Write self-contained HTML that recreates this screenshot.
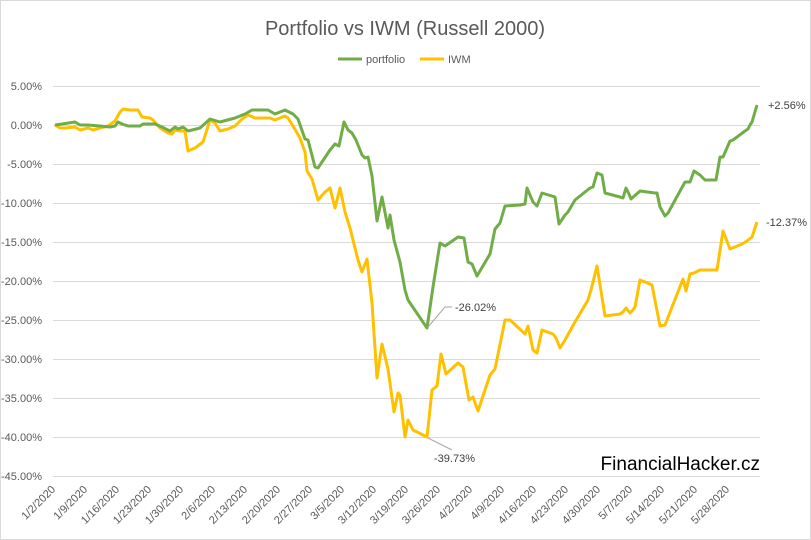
<!DOCTYPE html>
<html><head><meta charset="utf-8"><style>
html,body{margin:0;padding:0;background:#fff}
svg{display:block;font-family:"Liberation Sans",sans-serif}
</style></head><body>
<svg width="811" height="540" viewBox="0 0 811 540">
<rect x="0.5" y="0.5" width="810" height="539" fill="#fff" stroke="#d9d9d9"/>
<text x="405" y="35" text-anchor="middle" font-size="20" fill="#595959">Portfolio vs IWM (Russell 2000)</text>
<line x1="338" y1="59" x2="362" y2="59" stroke="#70ad47" stroke-width="3"/>
<text x="366" y="63" font-size="11" fill="#595959">portfolio</text>
<line x1="420" y1="59" x2="444" y2="59" stroke="#ffc000" stroke-width="3"/>
<text x="448" y="63" font-size="11" fill="#595959">IWM</text>
<g stroke="#d9d9d9" stroke-width="1">
<line x1="53" x2="760" y1="86.5" y2="86.5"/><line x1="53" x2="760" y1="125.5" y2="125.5"/>
<line x1="53" x2="760" y1="164.5" y2="164.5"/><line x1="53" x2="760" y1="203.5" y2="203.5"/>
<line x1="53" x2="760" y1="242.5" y2="242.5"/><line x1="53" x2="760" y1="281.5" y2="281.5"/>
<line x1="53" x2="760" y1="320.5" y2="320.5"/><line x1="53" x2="760" y1="359.5" y2="359.5"/>
<line x1="53" x2="760" y1="398.5" y2="398.5"/><line x1="53" x2="760" y1="437.5" y2="437.5"/>
<line x1="53" x2="760" y1="476.5" y2="476.5"/>
</g>
<g font-size="11" fill="#595959" text-anchor="end">
<text x="42" y="90">5.00%</text><text x="42" y="129">0.00%</text><text x="42" y="168">-5.00%</text>
<text x="42" y="207">-10.00%</text><text x="42" y="246">-15.00%</text><text x="42" y="285">-20.00%</text>
<text x="42" y="324">-25.00%</text><text x="42" y="363">-30.00%</text><text x="42" y="402">-35.00%</text>
<text x="42" y="441">-40.00%</text><text x="42" y="480">-45.00%</text>
</g>
<g font-size="11" fill="#595959" text-anchor="end">
<text transform="translate(56,490) rotate(-45)">1/2/2020</text>
<text transform="translate(88,490) rotate(-45)">1/9/2020</text>
<text transform="translate(120,490) rotate(-45)">1/16/2020</text>
<text transform="translate(152,490) rotate(-45)">1/23/2020</text>
<text transform="translate(184,490) rotate(-45)">1/30/2020</text>
<text transform="translate(216,490) rotate(-45)">2/6/2020</text>
<text transform="translate(248,490) rotate(-45)">2/13/2020</text>
<text transform="translate(281,490) rotate(-45)">2/20/2020</text>
<text transform="translate(313,490) rotate(-45)">2/27/2020</text>
<text transform="translate(345,490) rotate(-45)">3/5/2020</text>
<text transform="translate(377,490) rotate(-45)">3/12/2020</text>
<text transform="translate(409,490) rotate(-45)">3/19/2020</text>
<text transform="translate(441,490) rotate(-45)">3/26/2020</text>
<text transform="translate(473,490) rotate(-45)">4/2/2020</text>
<text transform="translate(505,490) rotate(-45)">4/9/2020</text>
<text transform="translate(537,490) rotate(-45)">4/16/2020</text>
<text transform="translate(569,490) rotate(-45)">4/23/2020</text>
<text transform="translate(601,490) rotate(-45)">4/30/2020</text>
<text transform="translate(633,490) rotate(-45)">5/7/2020</text>
<text transform="translate(665,490) rotate(-45)">5/14/2020</text>
<text transform="translate(698,490) rotate(-45)">5/21/2020</text>
<text transform="translate(730,490) rotate(-45)">5/28/2020</text>
</g>
<polyline fill="none" stroke="#ffc000" stroke-width="3" stroke-linejoin="round" points="55,125 60,128 65,128 75,127 80,130 88,128 93,130 100,128 108,126 115,121 120,112 123,109 130,110 138,110 142,117 150,118 153,120 160,128 168,133 172,134 175,130 180,131 185,131 188,151 195,148 203,142 210,120 215,123 220,131 228,129 235,126 242,119 248,115 255,118 270,118 275,120 285,116 288,118 293,126 300,138 305,152 307,171 312,179 318,200 325,192 330,188 335,208 340,188 345,212 350,228 358,260 362,272 367,259 372,303 377,378 382,344 388,369 394,412 398,393 400,395 405,437 408,420 413,430 427,437 432,390 437,386 441,354 446,374 458,363 463,367 469,400 473,397 478,411 490,375 495,369 505,320 510,320 525,334 528,326 533,350 537,353 542,330 553,334 556,338 560,348 565,340 575,322 588,300 591,290 597,266 605,316 620,314 623,312 626,308 630,313 633,310 635,307 640,280 650,284 652,285 660,326 665,325 683,279 686,291 690,274 694,273 700,270 713,270 717,270 723,231 730,249 742,244 747,241 752,237 757,222"/>
<polyline fill="none" stroke="#70ad47" stroke-width="3" stroke-linejoin="round" points="55,125 62,124 75,122 80,125 88,125 100,126 110,127 115,126 118,122 122,124 128,126 140,126 143,124 150,124 155,124 162,127 170,131 175,127 178,129 183,127 188,131 200,128 210,119 220,122 235,118 245,114 252,110 260,110 268,110 275,114 285,110 293,114 298,119 305,139 308,140 315,167 318,168 330,150 335,144 339,146 344,122 348,130 352,133 356,140 362,155 365,158 368,157 372,176 377,221 382,197 388,228 390,215 394,240 400,262 405,290 408,300 427,328 433,287 440,243 445,246 458,237 464,238 468,262 472,264 477,276 490,254 495,229 500,223 505,206 520,205 525,204 527,188 533,202 537,206 542,193 555,197 559,224 565,215 568,212 575,200 590,188 593,187 597,173 602,175 605,193 620,197 623,198 626,188 629,194 631,199 640,191 655,193 657,193 660,207 665,216 668,213 685,182 690,182 694,171 700,175 705,180 716,180 720,157 723,157 730,141 733,140 745,131 748,129 750,125 752,122 757,105"/>
<g stroke="#a6a6a6" stroke-width="1" fill="none">
<polyline points="428,327 445,307 452,307"/>
<polyline points="428,438 452,450"/>
</g>
<g font-size="11" fill="#404040">
<text x="455" y="311">-26.02%</text>
<text x="434" y="462">-39.73%</text>
<text x="768" y="109">+2.56%</text>
<text x="766" y="226">-12.37%</text>
</g>
<text x="760" y="470" text-anchor="end" font-size="19" fill="#000">FinancialHacker.cz</text>
</svg>
</body></html>
